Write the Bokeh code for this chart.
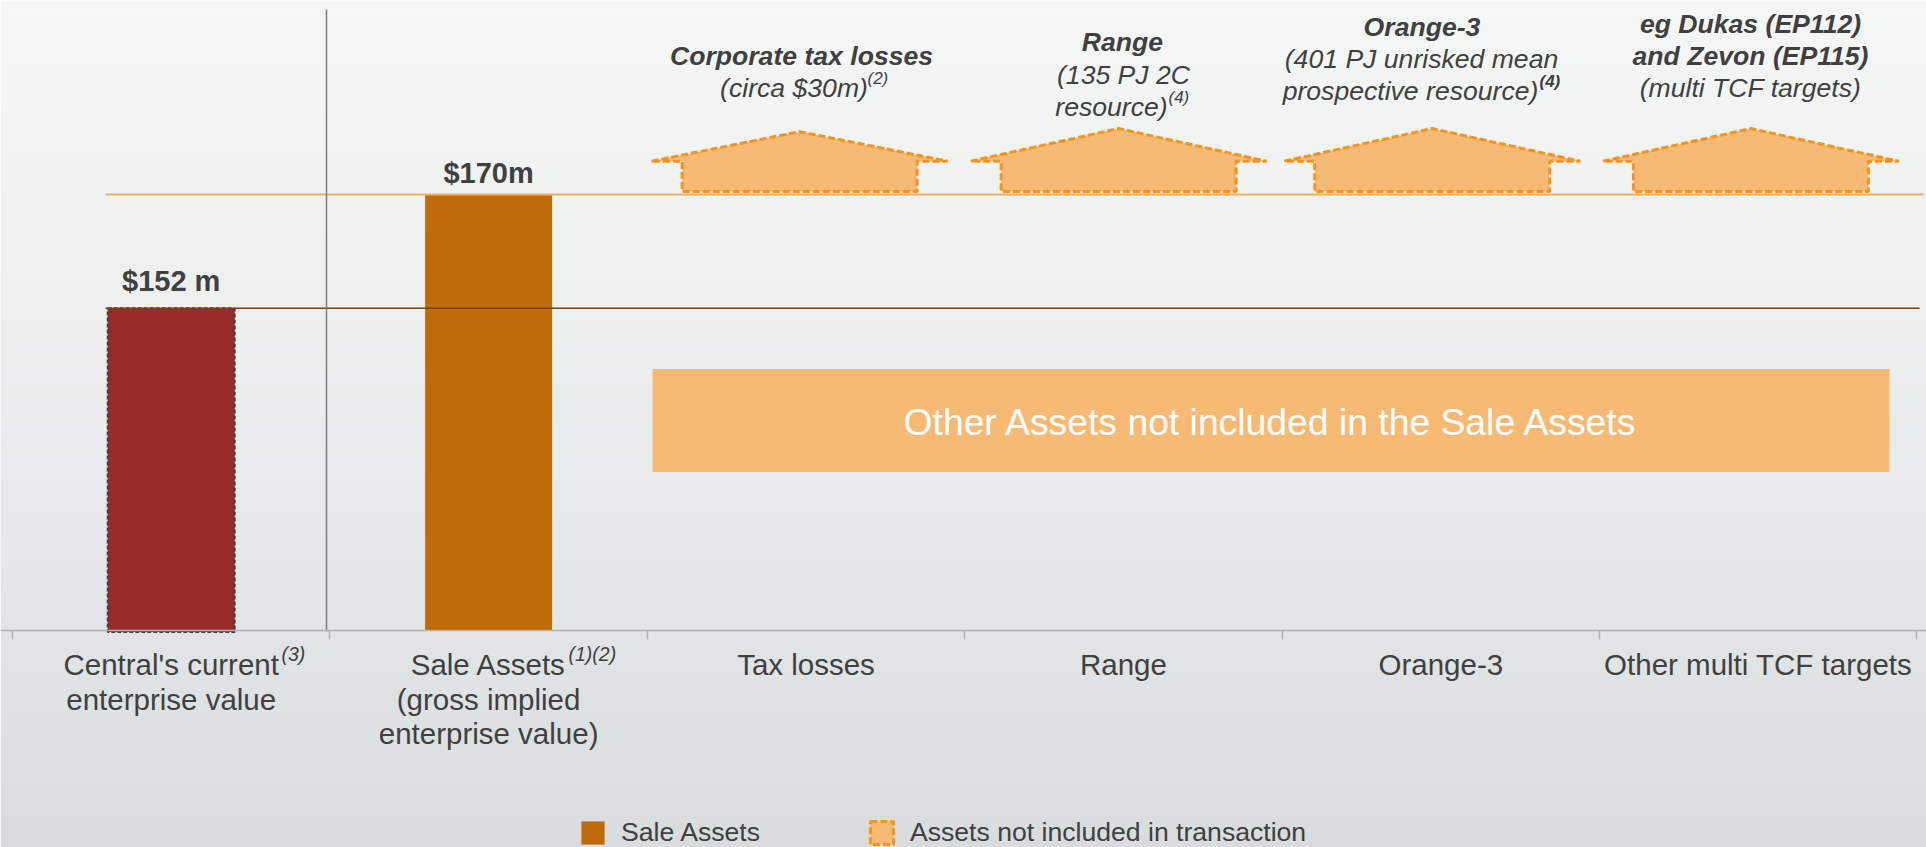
import numpy as np
from bokeh.plotting import figure
from bokeh.models import Range1d, LinearAxis, FixedTicker, Legend, LegendItem
from bokeh.core.properties import value
from bokeh.embed import file_html
from bokeh.resources import INLINE

# ---- data -----------------------------------------------------------
bar_slots = [0.5, 1.5]
bar_heights = [125.6, 170.0]      # drawn heights, the picture is not to scale
bar_labels = ["$152 m", "$170m"]
upside_slots = [2.5, 3.5, 4.5, 5.5]
upside_top = [194.5, 195.7, 195.7, 195.7]
upside_shift = [-0.020, -0.015, -0.027, -0.023]
banner_text = "Other Assets not included in the Sale Assets"
category_lines = [
    ["Central's current", "enterprise value"],
    ["Sale Assets", "(gross implied", "enterprise value)"],
    ["Tax losses"], ["Range"], ["Orange-3"], ["Other multi TCF targets"],
]
legend_labels = ["Sale Assets", "Assets not included in transaction"]

# ---- layout: reference pixels -> data --------------------------------
W, H = 1926, 847
SLOT, X0, BASE, PXU = 317.4, 12.0, 630.0, 2.5647
X = lambda px: (px - X0) / SLOT
Y = lambda py: (BASE - py) / PXU

DARK = "#404040"
FONT = value("Liberation Sans")

p = figure(width=W, height=H, output_backend="svg", toolbar_location=None,
           x_axis_location=None, y_axis_location=None, min_border=0,
           x_range=Range1d(X(0), X(W)), y_range=Range1d(Y(H), Y(0)),
           outline_line_color=None, border_fill_color="#eef0f0")
p.grid.visible = False

# page gradient (background only)
rows = np.arange(H)
stops_y, stops = [0, 300, 630, 847], [(245, 247, 246), (238, 240, 240), (226, 229, 230), (216, 220, 221)]
grad = np.zeros((H, 1), dtype=np.uint32)
view = grad.view(dtype=np.uint8).reshape((H, 1, 4))
for c in range(3):
    view[::-1, 0, c] = np.round(np.interp(rows, stops_y, [s[c] for s in stops]))
view[:, :, 3] = 255
p.image_rgba(image=[grad], x=X(0), y=Y(H), dw=W / SLOT, dh=H / PXU)

# banner
p.quad(left=[X(652)], right=[X(1889)], bottom=[Y(471.5)], top=[Y(368.5)],
       fill_color="#F7BA75", line_color=None)

# bars
p.vbar(x=[bar_slots[0]], top=[bar_heights[0]], bottom=[-0.6], width=0.4,
       fill_color="#9A2A2A", line_color="#404040", line_width=2, line_dash="4 2")
sale = p.vbar(x=[bar_slots[1]], top=[bar_heights[1]], bottom=[0], width=0.4,
              fill_color="#BF6A0B", line_color=None)

# upside arrows
EAVE, BOX_BOTTOM = 183.0, 171.2
HALF_WING, HALF_BOX = 148.0 / SLOT, 117.5 / SLOT
xs, ys = [], []
for s, shift, top in zip(upside_slots, upside_shift, upside_top):
    c = s + shift
    xs.append([c - HALF_WING, c, c + HALF_WING, c + HALF_BOX, c + HALF_BOX,
               c - HALF_BOX, c - HALF_BOX])
    ys.append([EAVE, top, EAVE, EAVE, BOX_BOTTOM, BOX_BOTTOM, EAVE])
houses = p.patches(xs, ys, fill_color="#F7BA75", line_color="#F7931E",
                   line_width=3, line_dash="7 3")

# reference lines
p.line([X(105), X(1923)], [bar_heights[1]] * 2, line_color="#F2AE62", line_width=2)
p.line([X(105), X(1919)], [bar_heights[0]] * 2, line_color="#7A4210", line_width=1.5)
p.line([X(326), X(326)], [Y(631), Y(9)], line_color="#7c7c7c", line_width=1.5)

# axis
ax = LinearAxis(ticker=FixedTicker(ticks=list(range(7))), fixed_location=0,
                axis_line_color="#b0b1b1", axis_line_width=1.5,
                major_tick_line_color="#b0b1b1", major_tick_line_width=1.5,
                major_tick_in=0, major_tick_out=9, minor_tick_line_color=None,
                major_label_text_color=None, major_label_text_font_size="1px")
p.add_layout(ax, "below")


def txt(xv, yv, strings, size, style="normal", color=DARK, align="center"):
    p.text(x=xv, y=yv, text=strings, text_font=FONT, text_font_size=value(f"{size}px"),
           text_font_style=style, text_color=color, text_align=align, text_baseline="middle")


# value labels
txt(bar_slots, [Y(280), Y(172)], bar_labels, 29, "bold")

# category labels
LINE_Y = [664, 699, 733]
for i, lines in enumerate(category_lines):
    txt([i + 0.5] * len(lines), [Y(v) for v in LINE_Y[:len(lines)]], lines, 29.5)
# footnote marks on categories
txt([X(281), X(568)], [Y(653), Y(653)], ["(3)", "(1)(2)"], 19.5, "italic", align="left")

# headline annotations
txt([X(801), X(1122), X(1421.5), X(1750), X(1750)], [Y(55), Y(41), Y(26), Y(23), Y(55)],
    ["Corporate tax losses", "Range", "Orange-3", "eg Dukas (EP112)", "and Zevon (EP115)"],
    26.6, "bold italic")
txt([X(793.5), X(1123), X(1111), X(1421), X(1410), X(1750)],
    [Y(87), Y(74), Y(106), Y(58), Y(90), Y(87)],
    ["(circa $30m)", "(135 PJ 2C", "resource)", "(401 PJ unrisked mean", "prospective resource)", "(multi TCF targets)"],
    26.6, "italic")
txt([X(867), X(1168)], [Y(78), Y(97)], ["(2)", "(4)"], 17, "italic", align="left")
txt([X(1539)], [Y(81)], ["(4)"], 17, "bold italic", align="left")

# banner text
txt([X(1271)], [Y(421)], [banner_text], 37.3, color="#ffffff")

# legend
legend = Legend(items=[LegendItem(label=legend_labels[0], renderers=[sale]),
                       LegendItem(label=legend_labels[1], renderers=[houses], index=0)],
                location=(578, -1), orientation="horizontal", padding=0, margin=0,
                spacing=107, glyph_width=29, glyph_height=29, label_standoff=14,
                background_fill_alpha=0, border_line_color=None,
                label_text_font="Liberation Sans", label_text_font_size="26.6px",
                label_text_color=DARK, label_height=29)
p.add_layout(legend, "center")

open("out.html", "w").write(file_html(p, INLINE))
